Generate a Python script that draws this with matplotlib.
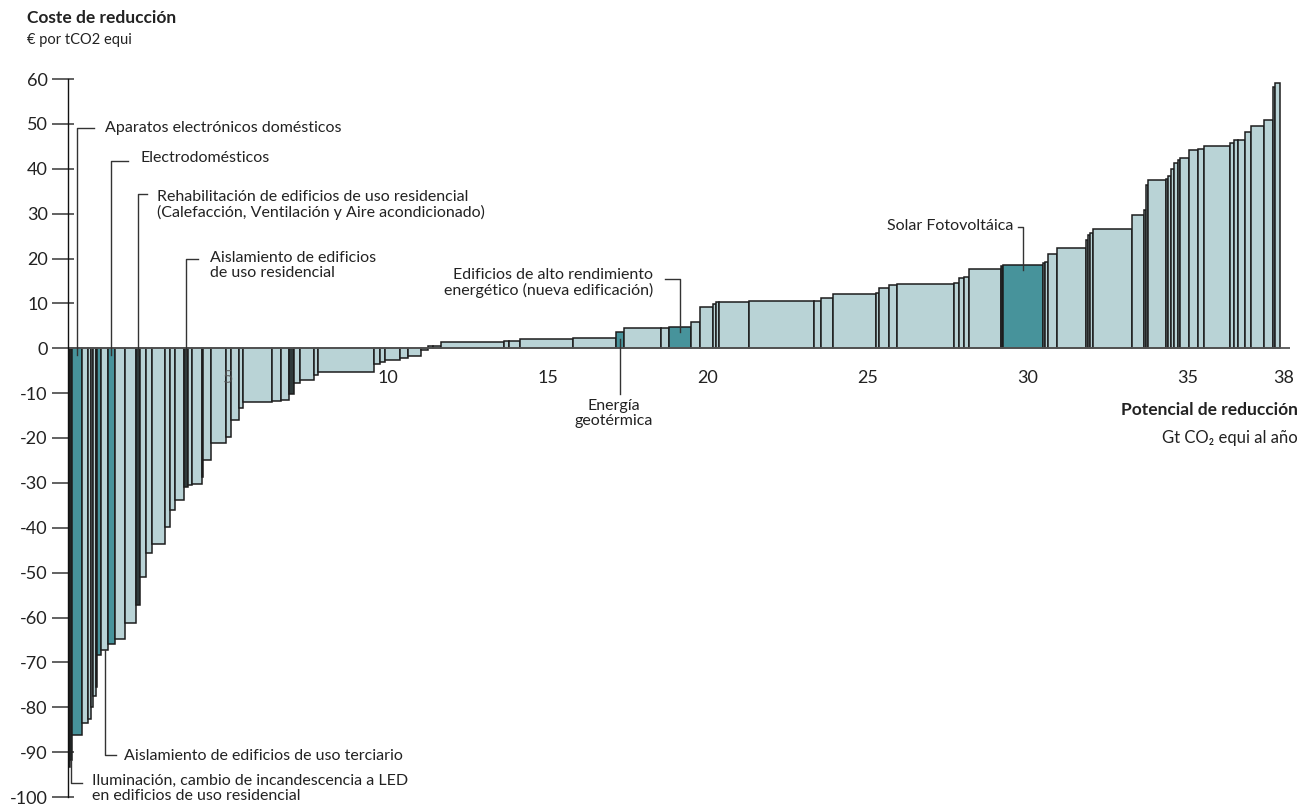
import matplotlib
matplotlib.use("Agg")
import matplotlib.pyplot as plt
import numpy as np

plt.rcParams['font.family'] = ['Lato', 'DejaVu Sans']

# ---- data: abatement potential (Gt CO2e/yr) and cost (EUR/tCO2e) ----
widths = [0.06, 0.06, 0.31, 0.19, 0.09, 0.06, 0.09, 0.05, 0.13, 0.21,
          0.21, 0.31, 0.34, 0.13, 0.21, 0.19, 0.38, 0.16, 0.16, 0.28,
          0.13, 0.13, 0.31, 0.03, 0.25, 0.47, 0.16, 0.25, 0.13, 0.88,
          0.31, 0.25, 0.13, 0.19, 0.44, 0.13, 1.75, 0.19, 0.16, 0.47,
          0.25, 0.41, 0.22,
          0.16, 0.25, 1.97, 0.13, 0.34, 1.66, 1.34, 0.25, 1.16, 0.25,
          0.69, 0.28, 0.41, 0.09, 0.09, 0.94, 2.03, 0.22, 0.38, 1.34,
          0.09, 0.34, 0.25, 1.78, 0.13, 0.16, 0.16, 1.00, 0.06, 1.25,
          0.06, 0.09, 0.31, 0.88, 0.09, 0.06, 0.09, 1.22, 0.38, 0.06,
          0.06, 0.56, 0.06, 0.09, 0.09, 0.13, 0.06, 0.28, 0.28, 0.19,
          0.81, 0.13, 0.13, 0.22, 0.19, 0.38, 0.31, 0.06, 0.13]
costs = [-93.3, -91.8, -86.2, -83.6, -82.7, -79.9, -77.6, -75.4, -68.4, -67.3,
         -65.9, -64.8, -61.3, -57.2, -50.9, -45.7, -43.7, -39.8, -36.1, -33.8,
         -30.9, -30.5, -30.3, -28.7, -24.9, -21.1, -19.7, -16.0, -13.4, -12.0,
         -11.8, -11.6, -10.3, -7.7, -7.1, -5.9, -5.4, -3.6, -3.0, -2.7,
         -2.1, -1.8, -0.3,
         0.4, 0.5, 1.4, 1.6, 1.6, 2.1, 2.2, 3.6, 4.5, 4.5,
         4.7, 5.9, 9.1, 9.8, 10.2, 10.3, 10.5, 10.5, 11.3, 12.0,
         12.3, 13.5, 14.2, 14.4, 14.6, 15.7, 15.9, 17.7, 18.3, 18.5,
         19.0, 19.2, 21.1, 22.3, 24.1, 25.2, 25.7, 26.5, 29.8, 30.7,
         36.3, 37.6, 37.8, 38.3, 40.0, 41.3, 41.9, 42.5, 44.1, 44.5,
         45.0, 45.8, 46.3, 46.5, 48.3, 49.5, 50.8, 58.2, 59.1]
# 'h' = highlighted lever, 'd' = dark (cluster of very thin levers), 'n' = normal
kinds = (['d', 'd', 'h', 'n', 'n', 'n', 'n', 'n', 'h', 'n',
          'h', 'n', 'n', 'd', 'n', 'n', 'n', 'n', 'n', 'n',
          'd', 'n', 'n', 'd', 'n', 'n', 'n', 'n', 'n', 'n',
          'n', 'n', 'd', 'n', 'n', 'n', 'n', 'n', 'n', 'n',
          'n', 'n', 'n',
          'n', 'n', 'n', 'n', 'n', 'n', 'n', 'h', 'n', 'n',
          'h'] + ['n'] * 17 + ['d', 'h'] + ['n'] * 29)

y_ticks = list(range(-100, 61, 10))
x_ticks = [5, 10, 15, 20, 25, 30, 35, 38]

# annotations: (label, bar index)
labels_top = [
    ("Aparatos electrónicos domésticos", 2),
    ("Electrodomésticos", 10),
    ("Rehabilitación de edificios de uso residencial\n(Calefacción, Ventilación y Aire acondicionado)", 13),
    ("Aislamiento de edificios\nde uso residencial", 20),
]

# ---- figure ----
W, H = 1315, 808
fig = plt.figure(figsize=(W / 100, H / 100), dpi=100)
ax = fig.add_axes([68 / W, 11 / H, (1290 - 68) / W, (797 - 79) / H])
ax.set_xlim(0, (1290 - 68) / 32.0)
ax.set_ylim(-100, 60)

palette = {'n': '#b9d3d6', 'h': '#47939b', 'd': '#2f3a3b'}
w = np.array(widths)
lefts = np.concatenate([[0], np.cumsum(w)[:-1]])
centers = lefts + w / 2
ax.bar(lefts, costs, width=w, align='edge',
       color=[palette[k] for k in kinds], edgecolor='#1c1c1c', linewidth=1.1, zorder=2)

ax.axhline(0, color='#555555', lw=1.3, zorder=3)

for s in ['top', 'right', 'bottom']:
    ax.spines[s].set_visible(False)
ax.spines['left'].set_color('#111111')
ax.spines['left'].set_linewidth(1.0)
ax.spines['left'].set_zorder(4)

ax.set_yticks(y_ticks)
ax.set_yticklabels([str(v) for v in y_ticks])
ax.set_yticks(y_ticks, minor=True)
ax.yaxis.remove_overlapping_locs = False
ax.tick_params(axis='y', which='major', direction='out', length=11.5, width=1.3,
               color='#555555', labelsize=13, labelcolor='#222222', pad=3)
ax.tick_params(axis='y', which='minor', direction='in', length=4.3, width=1.3,
               color='#555555')
ax.set_xticks([])

for xv in x_ticks:
    inside_bars = xv < 10
    ax.annotate(str(xv), (xv, 0), xytext=(0, -21.5), textcoords='offset points',
                ha='center', va='center', fontsize=13,
                color='#555555' if inside_bars else '#222222',
                alpha=0.75 if inside_bars else 1.0,
                zorder=6 if inside_bars else 1)

line_kw = dict(color='#333333', lw=1.0, clip_on=False, zorder=5)
txt_kw = dict(fontsize=11.5, color='#222222', va='center', ha='left')

def px2x(p):
    return (p - 68) / 32.0

def px2y(p):
    return (348 - p) / 4.4875

# top-left annotations (leader goes from inside the bar up, then right)
tops = [(128, 94, 105, 128), (161, 128, 140, 158), (194, 147, 157, 205), (259, 198, 210, 265)]
for (lab, idx), (ly, lx2, tx, ty) in zip(labels_top, tops):
    xc = centers[idx]
    ax.plot([xc, xc, px2x(lx2)], [-1.5, px2y(ly), px2y(ly)], **line_kw)
    ax.text(px2x(tx), px2y(ty), lab, linespacing=1.05, **txt_kw)

# bottom-left annotations
xc = centers[9]
ax.plot([xc, xc, px2x(116)], [costs[9], px2y(755), px2y(755)], **line_kw)
ax.text(px2x(124), px2y(756), "Aislamiento de edificios de uso terciario", **txt_kw)
xc = centers[1]
ax.plot([xc, xc, px2x(82)], [costs[1], px2y(783), px2y(783)], **line_kw)
ax.text(px2x(92), px2y(788), "Iluminación, cambio de incandescencia a LED\nen edificios de uso residencial",
        linespacing=1.05, **txt_kw)

# Edificios de alto rendimiento
xc = centers[53]
ax.plot([px2x(665), xc, xc], [px2y(279), px2y(279), costs[53] - 1.0], **line_kw)
ax.text(px2x(653), px2y(283), "Edificios de alto rendimiento\nenergético (nueva edificación)",
        linespacing=1.05, fontsize=11.5, color='#222222', va='center', ha='right')

# Energía geotérmica
xc = centers[50]
ax.plot([xc, xc], [costs[50] - 1.5, px2y(394)], **line_kw)
ax.text(px2x(614), px2y(413), "Energía\ngeotérmica", linespacing=1.05,
        fontsize=11.5, color='#222222', va='center', ha='center')

# Solar
xc = centers[72]
ax.plot([px2x(1018), xc, xc], [px2y(227), px2y(227), costs[72] - 1.0], **line_kw)
ax.text(px2x(1013), px2y(226), "Solar Fotovoltáica", fontsize=11.5, color='#222222',
        va='center', ha='right')

# titles
fig.text(27 / W, 1 - 18 / H, "Coste de reducción", fontsize=12.5, fontweight='bold',
         color='#222222', va='center', ha='left')
fig.text(27 / W, 1 - 40 / H, "€ por tCO2 equi", fontsize=10.5, color='#222222',
         va='center', ha='left')
fig.text(1298 / W, 1 - 410 / H, "Potencial de reducción", fontsize=12.5, fontweight='bold',
         color='#222222', va='center', ha='right')
fig.text(1298 / W, 1 - 438 / H, "Gt CO₂ equi al año", fontsize=12, color='#222222',
         va='center', ha='right')

fig.savefig("out.png", dpi=100)
